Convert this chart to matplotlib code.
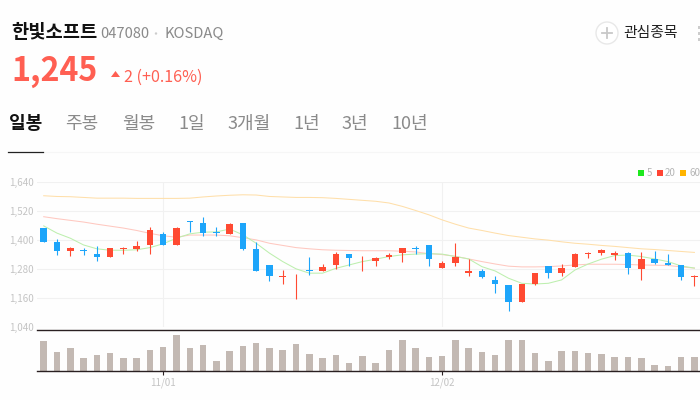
"""한빛소프트 일봉 차트."""

from __future__ import annotations

import matplotlib

matplotlib.use("Agg")

import matplotlib.pyplot as plt
from matplotlib.patches import Circle, Polygon, Rectangle

RED = "#FF4A32"
BLUE = "#1DA5FA"
RED_TEXT = "#FF5F52"
VOLUME = "#C3B9B3"
GRID = "#F1F1F1"
LABEL = "#C4C4C4"
TEXT_GREY = "#8A8A8A"
DARK = "#111111"
AXIS_LINE = "#2A2022"
MA5_COLOR = "#BDEFAE"
MA20_COLOR = "#FFC8C0"
MA60_COLOR = "#FFDFAA"

opens = [1449, 1391, 1352, 1356, 1342, 1331, 1364, 1361, 1377, 1425, 1377, 1478, 1472, 1433, 1425, 1471, 1361,
         1294, 1248, 1253, 1274, 1271, 1296, 1342, 1312, 1312, 1330, 1346, 1366, 1379, 1284, 1306, 1263, 1271,
         1234, 1213, 1143, 1219, 1292, 1263, 1288, 1342, 1346, 1338, 1345, 1280, 1321, 1305, 1296, 1246]
closes = [1393, 1352, 1367, 1352, 1330, 1366, 1366, 1375, 1442, 1379, 1449, 1474, 1428, 1427, 1467, 1361, 1271,
          1251, 1251, 1256, 1271, 1288, 1342, 1325, 1314, 1325, 1338, 1366, 1363, 1321, 1305, 1330, 1270, 1245,
          1215, 1143, 1219, 1263, 1263, 1284, 1342, 1346, 1359, 1346, 1284, 1321, 1305, 1296, 1246, 1249]
highs = [1449, 1403, 1370, 1367, 1375, 1366, 1370, 1396, 1452, 1433, 1454, 1478, 1496, 1454, 1471, 1471, 1392,
         1294, 1275, 1259, 1330, 1300, 1350, 1342, 1335, 1330, 1346, 1368, 1375, 1379, 1313, 1388, 1321, 1280,
         1251, 1213, 1219, 1263, 1292, 1300, 1346, 1349, 1361, 1354, 1350, 1350, 1354, 1342, 1296, 1255]
lows = [1393, 1338, 1335, 1338, 1313, 1331, 1341, 1354, 1341, 1379, 1377, 1433, 1417, 1417, 1425, 1359, 1269,
        1231, 1217, 1154, 1256, 1269, 1280, 1292, 1271, 1292, 1321, 1309, 1342, 1292, 1284, 1292, 1251, 1242,
        1179, 1105, 1143, 1213, 1242, 1251, 1288, 1325, 1338, 1316, 1259, 1234, 1300, 1296, 1234, 1209]

ma5 = [1458, 1428, 1407, 1379, 1363, 1357, 1357, 1359, 1368, 1384, 1407, 1425, 1432, 1433, 1445, 1421, 1386,
       1345, 1310, 1280, 1262, 1262, 1282, 1296, 1310, 1320, 1331, 1338, 1341, 1343, 1341, 1331, 1321, 1289,
       1271, 1241, 1220, 1217, 1220, 1234, 1275, 1300, 1320, 1335, 1337, 1331, 1321, 1310, 1292, 1283]
ma20 = [1496, 1488, 1481, 1474, 1465, 1457, 1449, 1439, 1427, 1417, 1411, 1420, 1420, 1420, 1417, 1409, 1400,
        1386, 1377, 1368, 1363, 1359, 1357, 1356, 1355, 1355, 1355, 1353, 1350, 1343, 1339, 1332, 1321, 1310,
        1300, 1291, 1288, 1288, 1289, 1292, 1296, 1299, 1299, 1299, 1298, 1296, 1295, 1294, 1288, 1283]
ma60 = [1583, 1580, 1579, 1576, 1573, 1573, 1573, 1572, 1572, 1572, 1572, 1573, 1578, 1582, 1585, 1587, 1586,
        1580, 1578, 1576, 1576, 1575, 1572, 1568, 1564, 1560, 1553, 1539, 1522, 1504, 1483, 1465, 1449, 1439,
        1428, 1418, 1411, 1404, 1399, 1392, 1386, 1382, 1377, 1373, 1368, 1363, 1360, 1356, 1352, 1348]
volumes = [89, 56, 69, 38, 48, 54, 38, 38, 64, 71, 107, 68, 78, 31, 60, 75, 85, 69, 64, 81, 51, 39, 49, 24, 45,
           24, 63, 93, 69, 42, 46, 93, 69, 56, 48, 93, 93, 54, 31, 60, 60, 53, 51, 42, 42, 39, 18, 16, 42, 42]

price_ticks = [1040, 1160, 1280, 1400, 1520, 1640]
price_labels = ["1,040", "1,160", "1,280", "1,400", "1,520", "1,640"]
date_positions = [9, 30]
date_labels = ["11/01", "12/02"]
tabs = ["일봉", "주봉", "월봉", "1일", "3개월", "1년", "3년", "10년"]
tab_left = [9, 65, 122, 178, 227, 293, 341, 391]
legend_names = ["5", "20", "60"]

plt.rcParams["font.family"] = ["Noto Sans CJK KR", "DejaVu Sans"]

W, H = 700, 400


def _px_axes(fig, left, top, right, bottom):
    return fig.add_axes([left / W, 1 - bottom / H, (right - left) / W, (bottom - top) / H])


fig = plt.figure(figsize=(7, 4), dpi=100, facecolor="#FEFEFE")

# 화면 좌표(px)로 쓰는 헤더 영역
page = fig.add_axes([0, 0, 1, 1])
page.set_xlim(0, W)
page.set_ylim(H, 0)
page.axis("off")

page.text(11.5, 33, "한빛소프트", fontsize=13.5, fontweight="bold", color=DARK, va="center")
page.text(100, 34, "047080", fontsize=10.6, color=TEXT_GREY, va="center")
page.add_patch(Circle((156, 33.5), 1.2, color="#CCCCCC", lw=0))
page.text(164, 34, "KOSDAQ", fontsize=10.6, color=TEXT_GREY, va="center")

page.text(11, 71, "1,245", fontsize=23.2, fontweight="bold", color=RED_TEXT, va="center")
page.add_patch(Polygon([(111, 77), (120, 77), (115.5, 71)], color=RED_TEXT, lw=0))
page.text(124, 77, "2 (+0.16%)", fontsize=11.6, color=RED_TEXT, va="center")

page.add_patch(Circle((607, 33), 11, facecolor="white", edgecolor="#E8E8E8", lw=1))
page.plot([602, 612], [33, 33], color="#C8C8C8", lw=1.3)
page.plot([607, 607], [28, 38], color="#C8C8C8", lw=1.3)
page.text(623.5, 33, "관심종목", fontsize=10.7, color="#222222", va="center")
for dot_y in (27, 33, 39):
    page.add_patch(Rectangle((698, dot_y - 1), 2, 3, color="#CCCCCC", lw=0))

for i, tab in enumerate(tabs):
    page.text(
        tab_left[i],
        123.5,
        tab,
        fontsize=13,
        fontweight="bold" if i == 0 else "normal",
        color=DARK if i == 0 else TEXT_GREY,
        va="center",
    )
page.plot([43, 700], [151.5, 151.5], color="#F6F6F6", lw=0.8)
page.plot([8, 43], [151.5, 151.5], color="#222222", lw=0.9)

for name, sq_x, txt_x, color in zip(
    legend_names, (638, 657, 680), (647, 665, 689), ("#1EE81E", "#FF4433", "#FFB400")
):
    page.add_patch(Rectangle((sq_x, 170), 6, 6, color=color, lw=0))
    page.text(txt_x, 173, name, fontsize=7, color="#B5B5B5", va="center")

# 가격 영역
ax = _px_axes(fig, 37, 182, 700, 326.7)
ax.patch.set_alpha(0)
ax.set_xlim(-0.505, 49.42)
ax.set_ylim(1040, 1640)
ax.spines[:].set_visible(False)
ax.set_yticks(price_ticks, price_labels)
ax.set_xticks(date_positions)
ax.tick_params(axis="both", length=0)
ax.tick_params(axis="x", labelbottom=False)
ax.tick_params(axis="y", labelsize=7, labelcolor=LABEL, pad=2.2)
ax.grid(color=GRID, linewidth=0.8)
ax.set_axisbelow(True)

ax.plot(range(50), ma60, color=MA60_COLOR, lw=0.75, zorder=2)
ax.plot(range(50), ma20, color=MA20_COLOR, lw=0.75, zorder=2)
ax.plot(range(50), ma5, color=MA5_COLOR, lw=0.75, zorder=2)

colors = [RED if c >= o else BLUE for o, c in zip(opens, closes)]
ax.vlines(range(50), lows, highs, colors=colors, lw=0.8, zorder=3)
ax.bar(
    range(50),
    [abs(c - o) for o, c in zip(opens, closes)],
    bottom=[min(o, c) for o, c in zip(opens, closes)],
    width=0.49,
    color=colors,
    linewidth=0,
    zorder=4,
)

# 거래량 영역
ax_vol = _px_axes(fig, 37, 330.3, 700, 371)
ax_vol.patch.set_alpha(0)
ax_vol.set_xlim(-0.505, 49.42)
ax_vol.set_ylim(0, 122)
ax_vol.bar(range(50), volumes, width=0.49, color=VOLUME, linewidth=0)
ax_vol.spines[["left", "right"]].set_visible(False)
ax_vol.spines[["top", "bottom"]].set_color(AXIS_LINE)
ax_vol.spines[["top", "bottom"]].set_linewidth(1.0)
ax_vol.set_yticks([])
ax_vol.set_xticks(date_positions, date_labels)
ax_vol.tick_params(axis="x", length=3, width=0.8, color=AXIS_LINE, labelsize=7, labelcolor=LABEL, pad=2)

fig.savefig("out.png", dpi=100, facecolor=fig.get_facecolor())
plt.close(fig)
